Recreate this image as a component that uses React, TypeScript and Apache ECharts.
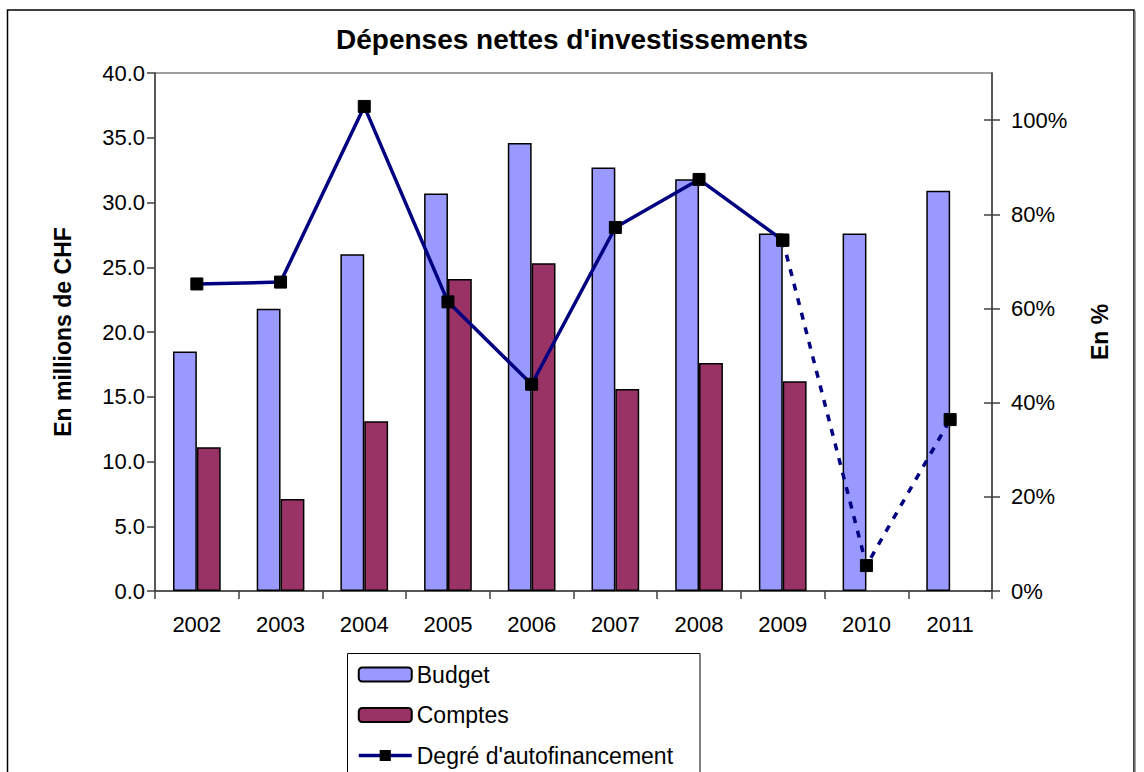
import React, { useEffect, useRef } from "react";
import * as echarts from "echarts";

const categories = ["2002", "2003", "2004", "2005", "2006", "2007", "2008", "2009", "2010", "2011"];
const budget = [18.5, 21.8, 26.0, 30.7, 34.6, 32.7, 31.8, 27.6, 27.6, 30.9];
const comptes = [11.1, 7.1, 13.1, 24.1, 25.3, 15.6, 17.6, 16.2, null, null];
const autofinancement = [65.2, 65.6, 102.9, 61.4, 43.9, 77.2, 87.4, 74.5, 5.4, 36.4];
const lastActualIndex = 7; // 2009: solid line up to here, dashed afterwards
const leftTicks = [0, 5, 10, 15, 20, 25, 30, 35, 40];
const rightTicks = [0, 20, 40, 60, 80, 100];

const FONT = "'Liberation Sans', Arial, sans-serif";

export default function App() {
  const ref = useRef<HTMLDivElement>(null);

  useEffect(() => {
    if (!ref.current) return;
    const chart = echarts.init(ref.current, undefined, { renderer: "svg" });

    const solid = autofinancement.map((v, i) => (i <= lastActualIndex ? v : null));
    const dashed = autofinancement.map((v, i) => (i >= lastActualIndex ? v : null));

    const axisColor = "#404040";

    chart.setOption({
      animation: false,
      backgroundColor: "#ffffff",
      textStyle: { fontFamily: FONT },
      title: {
        text: "Dépenses nettes d'investissements",
        left: "center",
        top: 20,
        textStyle: { fontFamily: FONT, fontSize: 28, fontWeight: "bold", color: "#000" },
      },
      graphic: [
        {
          type: "rect",
          shape: { x: 7.5, y: 10, width: 1126.5, height: 800 },
          style: { fill: "none", stroke: "#000", lineWidth: 1.5 },
          silent: true,
          z: -10,
        },
        {
          type: "line",
          shape: { x1: 1135, y1: 11, x2: 1135, y2: 800 },
          style: { stroke: "#808080", lineWidth: 1.5 },
          silent: true,
          z: -10,
        },
        {
          type: "rect",
          shape: { x: 347.5, y: 653.5, width: 352.5, height: 200 },
          style: { fill: "#fff", stroke: "#000", lineWidth: 1 },
          silent: true,
          z: -5,
        },
      ],
      grid: {
        left: 155,
        right: 152,
        top: 73,
        bottom: 181,
        show: true,
        borderColor: "#808080",
        borderWidth: 1.5,
        backgroundColor: "transparent",
      },
      legend: {
        orient: "vertical",
        left: 357,
        top: 663,
        data: ["Budget", "Comptes", "Degré d'autofinancement"],
        itemWidth: 53,
        itemHeight: 14,
        itemGap: 17.5,
        padding: 0,
        lineStyle: { width: 3.5 },
        textStyle: { fontFamily: FONT, fontSize: 23, color: "#000" },
      },
      xAxis: {
        type: "category",
        data: categories,
        boundaryGap: true,
        axisLine: { lineStyle: { color: axisColor, width: 1.5 } },
        axisTick: { show: true, length: 8, interval: 0, lineStyle: { color: axisColor, width: 1.5 } },
        axisLabel: { fontFamily: FONT, fontSize: 22, color: "#000", margin: 22, interval: 0 },
      },
      yAxis: [
        {
          type: "value",
          position: "left",
          min: 0,
          max: 40,
          interval: 5,
          name: "En millions de CHF",
          nameLocation: "middle",
          nameRotate: 90,
          nameGap: 81,
          nameTextStyle: { fontFamily: FONT, fontSize: 23, fontWeight: "bold", color: "#000" },
          axisLine: { show: true, lineStyle: { color: axisColor, width: 1.5 } },
          axisTick: { show: true, length: 8, lineStyle: { color: axisColor, width: 1.5 }, customValues: leftTicks },
          axisLabel: {
            fontFamily: FONT,
            fontSize: 22,
            color: "#000",
            margin: 10,
            customValues: leftTicks,
            formatter: (v: number) => v.toFixed(1),
          },
          splitLine: { show: false },
        },
        {
          type: "value",
          position: "right",
          min: 0,
          max: 110,
          interval: 20,
          name: "En %",
          nameLocation: "middle",
          nameRotate: 90,
          nameGap: 96,
          nameTextStyle: { fontFamily: FONT, fontSize: 23, fontWeight: "bold", color: "#000" },
          axisLine: { show: true, lineStyle: { color: axisColor, width: 1.5 } },
          axisTick: { show: true, length: 8, lineStyle: { color: axisColor, width: 1.5 }, customValues: rightTicks },
          axisLabel: {
            fontFamily: FONT,
            fontSize: 22,
            color: "#000",
            margin: 19,
            customValues: rightTicks,
            formatter: (v: number) => `${v}%`,
          },
          splitLine: { show: false },
        },
        {
          type: "value",
          position: "right",
          min: 0,
          max: 110,
          interval: 20,
          axisLine: { show: false },
          axisTick: {
            show: true,
            inside: true,
            length: 8,
            lineStyle: { color: axisColor, width: 1.5 },
            customValues: rightTicks,
          },
          axisLabel: { show: false },
          splitLine: { show: false },
        },
      ],
      series: [
        {
          name: "Budget",
          type: "bar",
          yAxisIndex: 0,
          data: budget,
          barGap: "0%",
          barCategoryGap: "43%",
          itemStyle: { color: "#9999FF", borderColor: "#000", borderWidth: 1.5 },
        },
        {
          name: "Comptes",
          type: "bar",
          yAxisIndex: 0,
          data: comptes,
          barGap: "0%",
          barCategoryGap: "43%",
          itemStyle: { color: "#993366", borderColor: "#000", borderWidth: 1.5 },
        },
        {
          name: "Degré d'autofinancement",
          type: "line",
          yAxisIndex: 1,
          data: solid,
          symbol: "rect",
          symbolSize: 12,
          showAllSymbol: true,
          lineStyle: { color: "#000080", width: 3.5 },
          itemStyle: { color: "#000", borderColor: "#000" },
          z: 5,
        },
        {
          name: "Degré d'autofinancement (prévision)",
          type: "line",
          yAxisIndex: 1,
          data: dashed,
          symbol: "rect",
          symbolSize: 12,
          showAllSymbol: true,
          lineStyle: { color: "#000080", width: 3.5, type: [7, 8] },
          itemStyle: { color: "#000", borderColor: "#000" },
          z: 5,
        },
      ],
    });

    return () => chart.dispose();
  }, []);

  return (
    <div
      ref={ref}
      style={{ position: "absolute", left: 0, top: 0, width: 1144, height: 772, background: "#fff" }}
    />
  );
}
